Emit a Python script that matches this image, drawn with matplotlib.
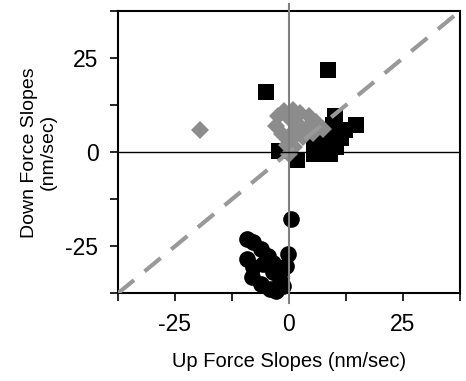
import numpy as np
import matplotlib.pyplot as plt
from matplotlib.ticker import FixedLocator, MultipleLocator

plt.rcParams['font.family'] = ['Liberation Sans', 'DejaVu Sans']
plt.rcParams['axes.unicode_minus'] = False

# circles (black)
circ_x = [0.5, -9.3, -7.9, -6.1, -4.6, -3.5, -9.3, -7.9, -5.7, -3.5,
          -8.2, -6.1, -4.2, -2.8, -2.0, -0.2, -0.6, -2.0, -1.4]
circ_y = [-17.7, -23.0, -23.9, -25.7, -27.5, -29.3, -28.4, -30.6, -29.7, -31.9,
          -33.2, -35.0, -36.3, -36.8, -34.1, -27.0, -30.1, -31.9, -35.5]

# squares (black)
sq_x = [-5.1, 8.6, -2.2, 1.8, 5.6, 5.6, 9.1, 8.9, 10.0, 9.6, 12.2, 14.6, 11.5, 7.8, 10.4, 6.2]
sq_y = [15.9, 21.9, 0.3, -2.0, 1.6, -0.4, -0.4, 3.1, 9.5, 7.1, 5.8, 7.1, 3.8, 5.3, 1.3, 4.2]

# diamonds (gray)
dia_x = [-19.6, -2.5, -1.0, 0.8, 2.5, 4.3, 6.0, 7.5, -2.8, -1.5,
         0.5, 2.0, 4.0, 5.2, 0.2, 1.2, 0.0, -0.5, 3.0, 1.0]
dia_y = [5.8, 9.5, 11.0, 11.2, 10.5, 9.5, 8.0, 6.2, 7.0, 4.8,
         8.5, 7.5, 6.5, 5.2, 3.0, 1.5, -0.6, 2.0, 4.0, 5.5]

lim = 37.5

fig = plt.figure(figsize=(4.66, 3.81), dpi=100)
ax = fig.add_axes([0.253, 0.230, 0.734, 0.741])

ax.plot(circ_x, circ_y, 'o', color='black', ms=12, mew=0, clip_on=False, zorder=2)
ax.plot(sq_x, sq_y, 's', color='black', ms=12, mew=0, clip_on=False, zorder=2)
ax.plot(dia_x, dia_y, 'D', color='#8c8c8c', ms=9.5, mew=0, clip_on=False, zorder=2)

# reference lines
diag, = ax.plot([-lim, lim], [-lim, lim], color='#999999', lw=3, zorder=3)
diag.set_dashes((5, 3.3))
ax.plot([0, 0], [-40, 39.5], color='#808080', lw=1.5, clip_on=False, zorder=3)
ax.axhline(0, color='black', lw=1, zorder=3)

ax.set_xlim(-lim, lim)
ax.set_ylim(-lim, lim)

for a in (ax.xaxis, ax.yaxis):
    a.set_major_locator(FixedLocator([-25, 0, 25]))
    a.set_minor_locator(MultipleLocator(12.5))
ax.tick_params(which='both', direction='out', length=6, width=1.2,
               top=False, right=False, labelsize=16.5, pad=8)

for s in ax.spines.values():
    s.set_linewidth(1.5)

ax.set_xlabel('Up Force Slopes (nm/sec)', fontsize=14.5, labelpad=12)
ax.set_ylabel('Down Force Slopes\n(nm/sec)', fontsize=14, labelpad=6)

fig.savefig('out.png', dpi=100)
